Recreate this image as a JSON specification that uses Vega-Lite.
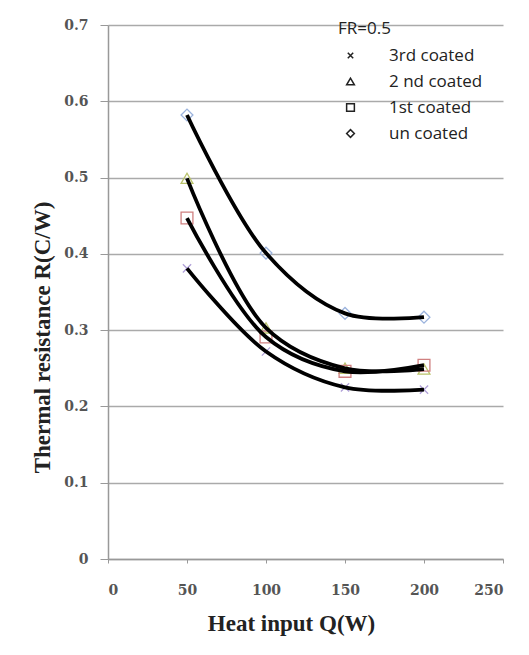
{
  "$schema": "https://vega.github.io/schema/vega-lite/v6.json",
  "width": 395,
  "height": 534,
  "autosize": {"type": "none"},
  "padding": {"left": 108, "top": 25, "right": 26, "bottom": 96},
  "background": "white",
  "config": {"view": {"stroke": null}},
  "data": {
    "values": [
      {"series": "un coated", "Q": 50, "R": 0.582},
      {"series": "un coated", "Q": 100, "R": 0.401},
      {"series": "un coated", "Q": 150, "R": 0.322},
      {"series": "un coated", "Q": 200, "R": 0.317},
      {"series": "2 nd coated", "Q": 50, "R": 0.499},
      {"series": "2 nd coated", "Q": 100, "R": 0.303},
      {"series": "2 nd coated", "Q": 150, "R": 0.25},
      {"series": "2 nd coated", "Q": 200, "R": 0.249},
      {"series": "1st coated", "Q": 50, "R": 0.447},
      {"series": "1st coated", "Q": 100, "R": 0.291},
      {"series": "1st coated", "Q": 150, "R": 0.246},
      {"series": "1st coated", "Q": 200, "R": 0.254},
      {"series": "3rd coated", "Q": 50, "R": 0.381},
      {"series": "3rd coated", "Q": 100, "R": 0.272},
      {"series": "3rd coated", "Q": 150, "R": 0.225},
      {"series": "3rd coated", "Q": 200, "R": 0.222}
    ]
  },
  "encoding": {
    "x": {
      "field": "Q", "type": "quantitative",
      "scale": {"domain": [0, 250], "nice": false},
      "axis": {
        "values": [0, 50, 100, 150, 200, 250],
        "title": "Heat input  Q(W)",
        "titleFont": "Liberation Serif", "titleFontSize": 23, "titleFontWeight": "bold", "titleColor": "#222",
        "titleX": 183, "titleY": 64, "titleAlign": "center", "titleBaseline": "middle",
        "labelFont": "DejaVu Serif", "labelFontWeight": "bold", "labelFontSize": 14, "labelColor": "#555",
        "labelPadding": 20, "tickSize": 4, "tickColor": "#999", "domainColor": "#999", "domainWidth": 1.5,
        "grid": false
      }
    },
    "y": {
      "field": "R", "type": "quantitative",
      "scale": {"domain": [0, 0.7], "nice": false},
      "axis": {
        "values": [0, 0.1, 0.2, 0.3, 0.4, 0.5, 0.6, 0.7],
        "format": ".1~f",
        "title": "Thermal resistance  R(C/W)",
        "titleFont": "Liberation Serif", "titleFontSize": 23, "titleFontWeight": "bold", "titleColor": "#222",
        "titleAngle": -90, "titleX": -66, "titleY": 312, "titleAlign": "center", "titleBaseline": "middle",
        "labelFont": "DejaVu Serif", "labelFontWeight": "bold", "labelFontSize": 14, "labelColor": "#555",
        "labelPadding": 12, "tickSize": 8, "tickColor": "#999", "domainColor": "#999", "domainWidth": 1.5,
        "grid": true, "gridColor": "#aaa", "gridWidth": 1.5
      }
    }
  },
  "layer": [
    {
      "transform": [{"filter": "datum.series === '3rd coated'"}],
      "mark": {"type": "point", "filled": false, "size": 140, "strokeWidth": 1.3, "opacity": 1, "stroke": "#b0a0d8"},
      "encoding": {
        "shape": {
          "field": "series", "type": "nominal",
          "scale": {
            "domain": ["3rd coated", "2 nd coated", "1st coated", "un coated"],
            "range": ["M-0.7,-0.7L0.7,0.7M0.7,-0.7L-0.7,0.7", "triangle-up", "square", "diamond"]
          },
          "legend": {
            "orient": "none", "legendX": 230, "legendY": -4,
            "title": "FR=0.5",
            "titleFont": "Open Sans", "titleFontSize": 17, "titleFontWeight": "normal", "titleColor": "#222",
            "labelFont": "Open Sans", "labelFontSize": 17, "labelColor": "#222",
            "symbolSize": 60, "labelOffset": 30, "rowPadding": 8, "titlePadding": 9, "symbolOffset": 4, "padding": 0,
            "symbolStrokeColor": "#222", "symbolFillColor": "transparent", "symbolStrokeWidth": 1.5
          }
        }
      }
    },
    {
      "transform": [{"filter": "datum.series === '2 nd coated'"}],
      "mark": {"type": "point", "filled": false, "size": 140, "strokeWidth": 1.3, "opacity": 1, "stroke": "#b9c26a"},
      "encoding": {
        "shape": {
          "field": "series", "type": "nominal",
          "scale": {
            "domain": ["3rd coated", "2 nd coated", "1st coated", "un coated"],
            "range": ["M-0.7,-0.7L0.7,0.7M0.7,-0.7L-0.7,0.7", "triangle-up", "square", "diamond"]
          }
        }
      }
    },
    {
      "transform": [{"filter": "datum.series === '1st coated'"}],
      "mark": {"type": "point", "filled": false, "size": 140, "strokeWidth": 1.3, "opacity": 1, "stroke": "#d08080"},
      "encoding": {
        "shape": {
          "field": "series", "type": "nominal",
          "scale": {
            "domain": ["3rd coated", "2 nd coated", "1st coated", "un coated"],
            "range": ["M-0.7,-0.7L0.7,0.7M0.7,-0.7L-0.7,0.7", "triangle-up", "square", "diamond"]
          }
        }
      }
    },
    {
      "transform": [{"filter": "datum.series === 'un coated'"}],
      "mark": {"type": "point", "filled": false, "size": 140, "strokeWidth": 1.3, "opacity": 1, "stroke": "#9bb3dd"},
      "encoding": {
        "shape": {
          "field": "series", "type": "nominal",
          "scale": {
            "domain": ["3rd coated", "2 nd coated", "1st coated", "un coated"],
            "range": ["M-0.7,-0.7L0.7,0.7M0.7,-0.7L-0.7,0.7", "triangle-up", "square", "diamond"]
          }
        }
      }
    },
    {
      "mark": {"type": "line", "interpolate": "catmull-rom", "color": "black", "strokeWidth": 3.8},
      "encoding": {"detail": {"field": "series", "type": "nominal"}}
    }
  ]
}
